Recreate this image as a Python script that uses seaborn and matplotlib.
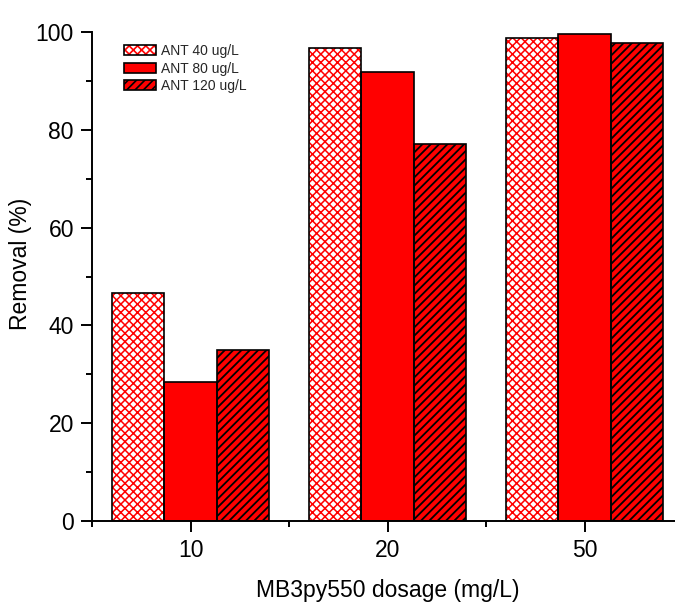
import matplotlib
matplotlib.use('Agg')
import matplotlib.pyplot as plt
import seaborn as sns
import pandas as pd
import numpy as np
from matplotlib.patches import Rectangle
from matplotlib.legend_handler import HandlerTuple
from matplotlib.ticker import MultipleLocator, FixedLocator

# ---- data ----
dosages = ['10', '20', '50']
series = ['ANT 40 ug/L', 'ANT 80 ug/L', 'ANT 120 ug/L']
ant40 = [46.6, 96.7, 98.8]
ant80 = [28.4, 91.8, 99.5]
ant120 = [35.0, 77.1, 97.8]

sns.set_theme(style='ticks')
plt.rcParams['font.family'] = ['Liberation Sans', 'DejaVu Sans']
plt.rcParams['hatch.linewidth'] = 1.2

df = pd.DataFrame({
    'dosage': dosages * 3,
    'series': np.repeat(series, 3),
    'removal': ant40 + ant80 + ant120,
})

fig = plt.figure(figsize=(6.75, 6.04), dpi=100)
ax = fig.add_axes([0.1363, 0.1374, 0.8756, 0.8096])
sns.barplot(data=df, x='dosage', y='removal', hue='series', order=dosages,
            hue_order=series, width=0.8, saturation=1, legend=False, ax=ax,
            errorbar=None)

styles = [
    dict(face='white', hatch='xxxx', hcolor='#ff0000', hlw=1.1),
    dict(face='#ff0000', hatch='', hcolor='#ff0000', hlw=1.0),
    dict(face='#ff0000', hatch='////', hcolor='black', hlw=1.3),
]

handles = []
for cont, st in zip(ax.containers, styles):
    for bar in cont:
        bar.set_facecolor(st['face'])
        bar.set_hatch(st['hatch'])
        bar.set_edgecolor(st['hcolor'])
        bar.set_linewidth(0)
        if hasattr(bar, 'set_hatch_linewidth'):
            bar.set_hatch_linewidth(st['hlw'])
        ax.add_patch(Rectangle(bar.get_xy(), bar.get_width(), bar.get_height(),
                               fill=False, edgecolor='black', lw=1.2, zorder=3))
    h1 = Rectangle((0, 0), 1, 1, facecolor=st['face'], hatch=st['hatch'],
                   edgecolor=st['hcolor'], lw=0)
    if hasattr(h1, 'set_hatch_linewidth'):
        h1.set_hatch_linewidth(st['hlw'])
    h2 = Rectangle((0, 0), 1, 1, fill=False, edgecolor='black', lw=1.2)
    handles.append((h1, h2))

ax.set_xlim(-0.5, 2.5)
ax.set_ylim(0, 100)
ax.yaxis.set_major_locator(MultipleLocator(20))
ax.yaxis.set_minor_locator(MultipleLocator(10))
ax.xaxis.set_minor_locator(FixedLocator([-0.5, 0.5, 1.5, 2.5]))
ax.tick_params(which='major', direction='out', length=8, width=1.4,
               color='black', labelsize=16.5, labelcolor='black', pad=5)
ax.tick_params(which='minor', direction='out', length=4.5, width=1.4, color='black')
for s in ['top', 'right']:
    ax.spines[s].set_visible(False)
for s in ['left', 'bottom']:
    ax.spines[s].set_color('black')
    ax.spines[s].set_linewidth(1.4)

ax.set_xlabel('MB3py550 dosage (mg/L)', fontsize=16.5, color='black')
ax.set_ylabel('Removal (%)', fontsize=16.5, color='black')
ax.xaxis.set_label_coords(0.5, -0.119)
ax.yaxis.set_label_coords(-0.101, 0.526)

ax.legend(handles, series, loc='upper left', bbox_to_anchor=(0.054, 0.975),
          borderaxespad=0, borderpad=0, frameon=False, fontsize=10,
          handlelength=2.3, handleheight=0.72, labelspacing=0.25,
          handletextpad=0.36,
          handler_map={tuple: HandlerTuple(ndivide=1)})

fig.savefig('out.png', dpi=100)
